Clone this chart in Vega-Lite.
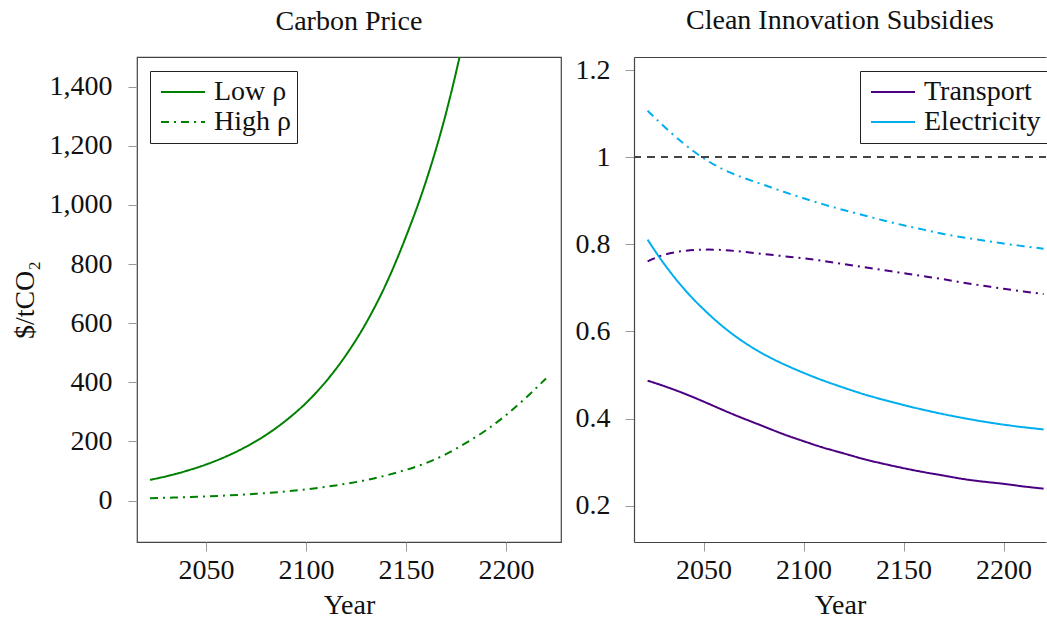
{
  "$schema": "https://vega.github.io/schema/vega-lite/v6.json",
  "background": "white",
  "padding": {"left": 10, "top": 7, "right": 0, "bottom": 0},
  "autosize": {"type": "pad"},
  "bounds": "flush",
  "spacing": 73,
  "config": {
    "font": "Liberation Serif",
    "view": {"stroke": null},
    "axis": {
      "labelFont": "Liberation Serif",
      "labelFontSize": 28,
      "labelColor": "#111",
      "titleFont": "Liberation Serif",
      "titleFontSize": 28,
      "titleFontWeight": "normal",
      "titleColor": "#111",
      "tickColor": "#9a9a9a",
      "tickSize": 9,
      "tickWidth": 1,
      "grid": false,
      "domainColor": "#444",
      "domainWidth": 1.2
    },
    "legend": {
      "labelFont": "Liberation Serif",
      "labelFontSize": 28,
      "labelColor": "#111",
      "strokeColor": "#222",
      "fillColor": "white",
      "padding": 6,
      "rowPadding": 0,
      "clipHeight": 30,
      "labelOffset": 8,
      "symbolOffset": 4,
      "symbolType": "stroke",
      "symbolSize": 1936,
      "symbolStrokeWidth": 2
    },
    "title": {"font": "Liberation Serif", "fontSize": 28, "fontWeight": "normal", "color": "#111", "offset": 21}
  },
  "datasets": {
    "carbon": [
      {"year": 2022, "scenario": "Low ρ", "price": 70},
      {"year": 2030, "scenario": "Low ρ", "price": 82},
      {"year": 2040, "scenario": "Low ρ", "price": 100},
      {"year": 2050, "scenario": "Low ρ", "price": 122},
      {"year": 2060, "scenario": "Low ρ", "price": 149},
      {"year": 2070, "scenario": "Low ρ", "price": 182},
      {"year": 2080, "scenario": "Low ρ", "price": 222},
      {"year": 2090, "scenario": "Low ρ", "price": 271},
      {"year": 2100, "scenario": "Low ρ", "price": 330},
      {"year": 2110, "scenario": "Low ρ", "price": 403},
      {"year": 2120, "scenario": "Low ρ", "price": 492},
      {"year": 2130, "scenario": "Low ρ", "price": 600},
      {"year": 2140, "scenario": "Low ρ", "price": 732},
      {"year": 2150, "scenario": "Low ρ", "price": 893},
      {"year": 2160, "scenario": "Low ρ", "price": 1080},
      {"year": 2170, "scenario": "Low ρ", "price": 1310},
      {"year": 2180, "scenario": "Low ρ", "price": 1600},
      {"year": 2190, "scenario": "Low ρ", "price": 1950},
      {"year": 2022, "scenario": "High ρ", "price": 8},
      {"year": 2030, "scenario": "High ρ", "price": 9.5},
      {"year": 2040, "scenario": "High ρ", "price": 11.5},
      {"year": 2050, "scenario": "High ρ", "price": 14},
      {"year": 2060, "scenario": "High ρ", "price": 17},
      {"year": 2070, "scenario": "High ρ", "price": 21},
      {"year": 2080, "scenario": "High ρ", "price": 25.5},
      {"year": 2090, "scenario": "High ρ", "price": 31},
      {"year": 2100, "scenario": "High ρ", "price": 38},
      {"year": 2110, "scenario": "High ρ", "price": 46.5},
      {"year": 2120, "scenario": "High ρ", "price": 57},
      {"year": 2130, "scenario": "High ρ", "price": 69},
      {"year": 2140, "scenario": "High ρ", "price": 85},
      {"year": 2150, "scenario": "High ρ", "price": 104},
      {"year": 2160, "scenario": "High ρ", "price": 127},
      {"year": 2170, "scenario": "High ρ", "price": 157},
      {"year": 2180, "scenario": "High ρ", "price": 195},
      {"year": 2190, "scenario": "High ρ", "price": 238},
      {"year": 2200, "scenario": "High ρ", "price": 289},
      {"year": 2210, "scenario": "High ρ", "price": 348},
      {"year": 2220, "scenario": "High ρ", "price": 413}
    ],
    "subsidy": [
      {"year": 2022, "sector": "Transport", "scenario": "Low ρ", "value": 0.487},
      {"year": 2030, "sector": "Transport", "scenario": "Low ρ", "value": 0.475},
      {"year": 2040, "sector": "Transport", "scenario": "Low ρ", "value": 0.458},
      {"year": 2050, "sector": "Transport", "scenario": "Low ρ", "value": 0.439},
      {"year": 2060, "sector": "Transport", "scenario": "Low ρ", "value": 0.419},
      {"year": 2070, "sector": "Transport", "scenario": "Low ρ", "value": 0.400},
      {"year": 2080, "sector": "Transport", "scenario": "Low ρ", "value": 0.382},
      {"year": 2090, "sector": "Transport", "scenario": "Low ρ", "value": 0.364},
      {"year": 2100, "sector": "Transport", "scenario": "Low ρ", "value": 0.348},
      {"year": 2110, "sector": "Transport", "scenario": "Low ρ", "value": 0.333},
      {"year": 2120, "sector": "Transport", "scenario": "Low ρ", "value": 0.320},
      {"year": 2130, "sector": "Transport", "scenario": "Low ρ", "value": 0.307},
      {"year": 2140, "sector": "Transport", "scenario": "Low ρ", "value": 0.296},
      {"year": 2150, "sector": "Transport", "scenario": "Low ρ", "value": 0.286},
      {"year": 2160, "sector": "Transport", "scenario": "Low ρ", "value": 0.277},
      {"year": 2170, "sector": "Transport", "scenario": "Low ρ", "value": 0.269},
      {"year": 2180, "sector": "Transport", "scenario": "Low ρ", "value": 0.261},
      {"year": 2190, "sector": "Transport", "scenario": "Low ρ", "value": 0.255},
      {"year": 2200, "sector": "Transport", "scenario": "Low ρ", "value": 0.250},
      {"year": 2210, "sector": "Transport", "scenario": "Low ρ", "value": 0.244},
      {"year": 2220, "sector": "Transport", "scenario": "Low ρ", "value": 0.239},
      {"year": 2022, "sector": "Electricity", "scenario": "Low ρ", "value": 0.811},
      {"year": 2030, "sector": "Electricity", "scenario": "Low ρ", "value": 0.757},
      {"year": 2040, "sector": "Electricity", "scenario": "Low ρ", "value": 0.699},
      {"year": 2050, "sector": "Electricity", "scenario": "Low ρ", "value": 0.651},
      {"year": 2060, "sector": "Electricity", "scenario": "Low ρ", "value": 0.610},
      {"year": 2070, "sector": "Electricity", "scenario": "Low ρ", "value": 0.576},
      {"year": 2080, "sector": "Electricity", "scenario": "Low ρ", "value": 0.548},
      {"year": 2090, "sector": "Electricity", "scenario": "Low ρ", "value": 0.525},
      {"year": 2100, "sector": "Electricity", "scenario": "Low ρ", "value": 0.505},
      {"year": 2110, "sector": "Electricity", "scenario": "Low ρ", "value": 0.487},
      {"year": 2120, "sector": "Electricity", "scenario": "Low ρ", "value": 0.471},
      {"year": 2130, "sector": "Electricity", "scenario": "Low ρ", "value": 0.456},
      {"year": 2140, "sector": "Electricity", "scenario": "Low ρ", "value": 0.443},
      {"year": 2150, "sector": "Electricity", "scenario": "Low ρ", "value": 0.431},
      {"year": 2160, "sector": "Electricity", "scenario": "Low ρ", "value": 0.420},
      {"year": 2170, "sector": "Electricity", "scenario": "Low ρ", "value": 0.410},
      {"year": 2180, "sector": "Electricity", "scenario": "Low ρ", "value": 0.401},
      {"year": 2190, "sector": "Electricity", "scenario": "Low ρ", "value": 0.393},
      {"year": 2200, "sector": "Electricity", "scenario": "Low ρ", "value": 0.386},
      {"year": 2210, "sector": "Electricity", "scenario": "Low ρ", "value": 0.380},
      {"year": 2220, "sector": "Electricity", "scenario": "Low ρ", "value": 0.375},
      {"year": 2022, "sector": "Transport", "scenario": "High ρ", "value": 0.761},
      {"year": 2030, "sector": "Transport", "scenario": "High ρ", "value": 0.776},
      {"year": 2040, "sector": "Transport", "scenario": "High ρ", "value": 0.785},
      {"year": 2050, "sector": "Transport", "scenario": "High ρ", "value": 0.788},
      {"year": 2060, "sector": "Transport", "scenario": "High ρ", "value": 0.787},
      {"year": 2070, "sector": "Transport", "scenario": "High ρ", "value": 0.783},
      {"year": 2080, "sector": "Transport", "scenario": "High ρ", "value": 0.778},
      {"year": 2090, "sector": "Transport", "scenario": "High ρ", "value": 0.773},
      {"year": 2100, "sector": "Transport", "scenario": "High ρ", "value": 0.768},
      {"year": 2110, "sector": "Transport", "scenario": "High ρ", "value": 0.762},
      {"year": 2120, "sector": "Transport", "scenario": "High ρ", "value": 0.755},
      {"year": 2130, "sector": "Transport", "scenario": "High ρ", "value": 0.748},
      {"year": 2140, "sector": "Transport", "scenario": "High ρ", "value": 0.741},
      {"year": 2150, "sector": "Transport", "scenario": "High ρ", "value": 0.734},
      {"year": 2160, "sector": "Transport", "scenario": "High ρ", "value": 0.727},
      {"year": 2170, "sector": "Transport", "scenario": "High ρ", "value": 0.720},
      {"year": 2180, "sector": "Transport", "scenario": "High ρ", "value": 0.712},
      {"year": 2190, "sector": "Transport", "scenario": "High ρ", "value": 0.705},
      {"year": 2200, "sector": "Transport", "scenario": "High ρ", "value": 0.698},
      {"year": 2210, "sector": "Transport", "scenario": "High ρ", "value": 0.692},
      {"year": 2220, "sector": "Transport", "scenario": "High ρ", "value": 0.686},
      {"year": 2022, "sector": "Electricity", "scenario": "High ρ", "value": 1.107},
      {"year": 2030, "sector": "Electricity", "scenario": "High ρ", "value": 1.072},
      {"year": 2040, "sector": "Electricity", "scenario": "High ρ", "value": 1.032},
      {"year": 2050, "sector": "Electricity", "scenario": "High ρ", "value": 0.998},
      {"year": 2060, "sector": "Electricity", "scenario": "High ρ", "value": 0.972},
      {"year": 2070, "sector": "Electricity", "scenario": "High ρ", "value": 0.953},
      {"year": 2080, "sector": "Electricity", "scenario": "High ρ", "value": 0.937},
      {"year": 2090, "sector": "Electricity", "scenario": "High ρ", "value": 0.921},
      {"year": 2100, "sector": "Electricity", "scenario": "High ρ", "value": 0.906},
      {"year": 2110, "sector": "Electricity", "scenario": "High ρ", "value": 0.892},
      {"year": 2120, "sector": "Electricity", "scenario": "High ρ", "value": 0.879},
      {"year": 2130, "sector": "Electricity", "scenario": "High ρ", "value": 0.867},
      {"year": 2140, "sector": "Electricity", "scenario": "High ρ", "value": 0.855},
      {"year": 2150, "sector": "Electricity", "scenario": "High ρ", "value": 0.844},
      {"year": 2160, "sector": "Electricity", "scenario": "High ρ", "value": 0.834},
      {"year": 2170, "sector": "Electricity", "scenario": "High ρ", "value": 0.824},
      {"year": 2180, "sector": "Electricity", "scenario": "High ρ", "value": 0.816},
      {"year": 2190, "sector": "Electricity", "scenario": "High ρ", "value": 0.809},
      {"year": 2200, "sector": "Electricity", "scenario": "High ρ", "value": 0.802},
      {"year": 2210, "sector": "Electricity", "scenario": "High ρ", "value": 0.796},
      {"year": 2220, "sector": "Electricity", "scenario": "High ρ", "value": 0.790}
    ]
  },
  "resolve": {
    "scale": {"x": "independent", "y": "independent", "color": "independent", "strokeDash": "independent"},
    "legend": {"color": "independent", "strokeDash": "independent"}
  },
  "hconcat": [
    {
      "width": 424,
      "height": 485,
      "title": "Carbon Price",
      "view": {"stroke": "#444", "strokeWidth": 1.2},
      "data": {"name": "carbon"},
      "mark": {"type": "line", "clip": true, "color": "#008000", "strokeWidth": 2, "interpolate": "monotone"},
      "encoding": {
        "x": {
          "field": "year", "type": "quantitative",
          "scale": {"domain": [2015.5, 2227.5], "nice": false, "zero": false},
          "axis": {"title": "Year", "values": [2050, 2100, 2150, 2200], "format": "d", "domain": false, "labelPadding": 5, "titlePadding": 7}
        },
        "y": {
          "field": "price", "type": "quantitative",
          "scale": {"domain": [-140, 1500], "nice": false, "zero": false},
          "axis": {"title": "$/tCO₂", "values": [0, 200, 400, 600, 800, 1000, 1200, 1400], "format": ",d", "domain": false, "labelPadding": 16, "titlePadding": 10}
        },
        "strokeDash": {
          "field": "scenario", "type": "nominal",
          "scale": {"domain": ["Low ρ", "High ρ"], "range": [[1, 0], [8, 5, 2, 5]]},
          "legend": {"title": null, "orient": "none", "legendX": 13, "legendY": 14, "symbolStrokeColor": "#008000"}
        }
      }
    },
    {
      "width": 412,
      "height": 485,
      "title": "Clean Innovation Subsidies",
      "data": {"name": "subsidy"},
      "resolve": {"axis": {"x": "independent"}},
      "layer": [
        {
          "mark": {"type": "line", "strokeWidth": 2, "interpolate": "natural", "clip": true},
          "encoding": {
            "x": {
              "field": "year", "type": "quantitative",
              "scale": {"domain": [2015.2, 2221.2], "nice": false, "zero": false},
              "axis": {"title": "Year", "values": [2050, 2100, 2150, 2200], "format": "d", "domain": true, "labelPadding": 5, "titlePadding": 7}
            },
            "y": {
              "field": "value", "type": "quantitative",
              "scale": {"domain": [0.1164, 1.2306], "nice": false, "zero": false},
              "axis": {"title": null, "values": [0.2, 0.4, 0.6, 0.8, 1, 1.2], "format": "~g", "domain": true, "labelPadding": 15}
            },
            "color": {
              "field": "sector", "type": "nominal",
              "scale": {"domain": ["Transport", "Electricity"], "range": ["#4B0082", "#00AEEF"]},
              "legend": {"title": null, "orient": "none", "legendX": 226, "legendY": 14}
            },
            "strokeDash": {
              "field": "scenario", "type": "nominal",
              "scale": {"domain": ["Low ρ", "High ρ"], "range": [[1, 0], [8, 5, 2, 5]]},
              "legend": null
            }
          }
        },
        {
          "mark": {"type": "rule", "strokeDash": [7, 6.5], "color": "#444", "strokeWidth": 1.2},
          "encoding": {"y": {"datum": 1}}
        },
        {
          "mark": {"type": "line", "opacity": 0},
          "encoding": {
            "x": {
              "field": "year", "type": "quantitative",
              "axis": {"orient": "top", "labels": false, "ticks": false, "title": null, "domain": true}
            }
          }
        }
      ]
    }
  ]
}
